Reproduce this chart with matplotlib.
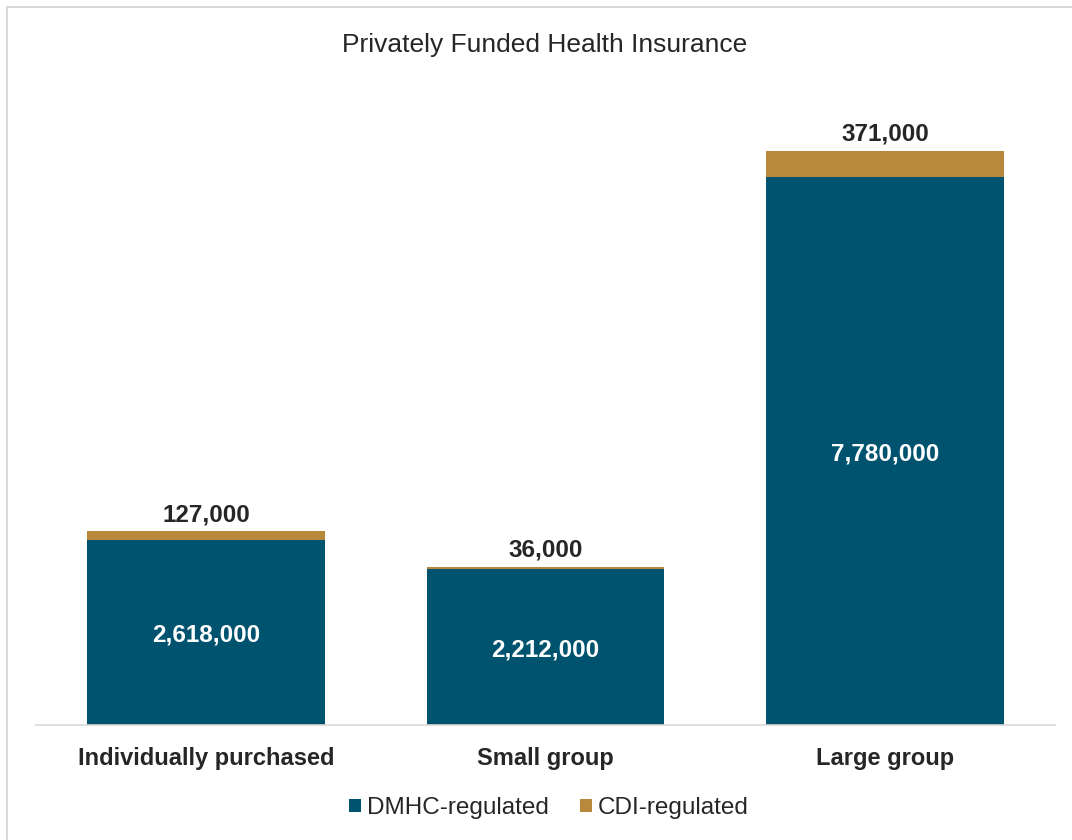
import matplotlib.pyplot as plt
import numpy as np
from matplotlib.lines import Line2D

plt.rcParams["font.family"] = ["Liberation Sans", "DejaVu Sans"]

categories = ["Individually purchased", "Small group", "Large group"]
dmhc = [2618000, 2212000, 7780000]
cdi = [127000, 36000, 371000]
series_names = ["DMHC-regulated", "CDI-regulated"]

blue = "#00536F"
gold = "#B8893B"
text_color = "#262626"
border = "#D9D9D9"

fig = plt.figure(figsize=(10.72, 8.4), dpi=100)
ax = fig.add_axes([0.034, 0.137, 0.950, 0.755])

x = np.arange(len(categories))
ax.bar(x, dmhc, width=0.70, color=blue, label=series_names[0])
ax.bar(x, cdi, width=0.70, bottom=dmhc, color=gold, label=series_names[1])

for xi, d, c in zip(x, dmhc, cdi):
    ax.text(xi, d / 2 - 40000, f"{d:,}", ha="center", va="center",
            color="white", fontsize=17.5, fontweight="bold")
    ax.text(xi, d + c + 70000, f"{c:,}", ha="center", va="bottom",
            color=text_color, fontsize=17.5, fontweight="bold")

ax.set_xlim(-0.5, 2.5)
ax.set_ylim(0, 9000000)
ax.set_xticks(x)
ax.set_xticklabels(categories, fontsize=17, fontweight="bold", color=text_color)
ax.tick_params(axis="x", length=0, pad=16)
ax.set_yticks([])
for side in ["top", "left", "right"]:
    ax.spines[side].set_visible(False)
ax.spines["bottom"].set_color(border)
ax.spines["bottom"].set_linewidth(1.2)

fig.text(0.508, 0.947, "Privately Funded Health Insurance", ha="center",
         va="center", fontsize=19, color=text_color)

fig.legend(loc="center", bbox_to_anchor=(0.512, 0.038), ncol=2, frameon=False,
           fontsize=17.5, handlelength=0.5, handleheight=0.5, handletextpad=0.25,
           columnspacing=1.25, labelcolor=text_color)

# chart frame, only top and left edges show in the crop
y_top = 1 - 7 / 840
x_left = 7 / 1072
fig.add_artist(Line2D([x_left, 1], [y_top, y_top], transform=fig.transFigure,
                      color=border, linewidth=1.5))
fig.add_artist(Line2D([x_left, x_left], [0, y_top], transform=fig.transFigure,
                      color=border, linewidth=1.5))

fig.savefig("out.png", dpi=100, facecolor="white")
